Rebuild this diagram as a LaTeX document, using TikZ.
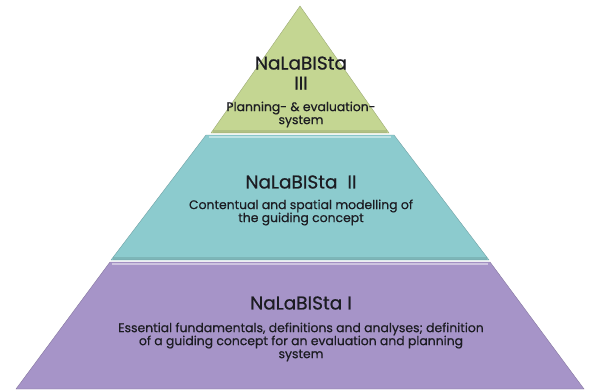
\documentclass[tikz,border=0pt]{standalone}
\usepackage{fontspec}
\setmainfont{Poppins}
\newfontfamily\titlefont{Poppins}[FakeBold=0.7]
\newfontfamily\subfont{Poppins}[FakeBold=0.5]
\definecolor{tierA}{RGB}{196,214,146}
\definecolor{tierB}{RGB}{140,203,206}
\definecolor{tierC}{RGB}{166,148,200}
\definecolor{ink}{RGB}{28,28,34}
\tikzset{
  tier/.style={draw=#1!80!black, line width=0.4pt, fill=#1},
  hilite/.style={draw=white, opacity=0.45, line width=1.6pt},
  shade/.style={draw=black, opacity=0.10, line width=2.5pt},
  title/.style={text=ink, font=\titlefont\fontsize{18.5}{20}\selectfont, align=center, inner sep=0pt},
  sub/.style={text=ink, font=\subfont\fontsize{12.4}{13}\selectfont, align=center, inner sep=0pt}
}
\begin{document}
\begin{tikzpicture}[x=1pt,y=-1pt]
\useasboundingbox (0,0) rectangle (589,389);
\fill[white] (0,0) rectangle (589,389);
% tiers
\draw[tier=tierA] (300,6) -- (389,133) -- (211,133) -- cycle;
\draw[tier=tierB] (206,135) -- (394,135) -- (489,260) -- (111,260) -- cycle;
\draw[tier=tierC] (110,262) -- (490,262) -- (584,389) -- (16,389) -- cycle;
% bevels
\draw[hilite] (209,137) -- (391,137);
\draw[hilite] (112,264) -- (488,264);
\draw[shade] (213,131.5) -- (387,131.5);
\draw[shade] (113,258.5) -- (487,258.5);
% texts
\node[title] (t3) at (301,73) {NaLaBISta\\III};
\node[sub] (s3) at (301,114.5) {Planning- \& evaluation-\\system};
\node[title] (t2) at (301,182) {NaLaBISta\ \ II};
\node[sub] (s2) at (301,212.5) {Contentual and spatial modelling of\\the guiding concept};
\node[title] (t1) at (301,303) {NaLaBISta I};
\node[sub] (s1) at (301,342) {Essential fundamentals, definitions and analyses; definition\\of a guiding concept for an evaluation and planning\\system};
\end{tikzpicture}
\end{document}
